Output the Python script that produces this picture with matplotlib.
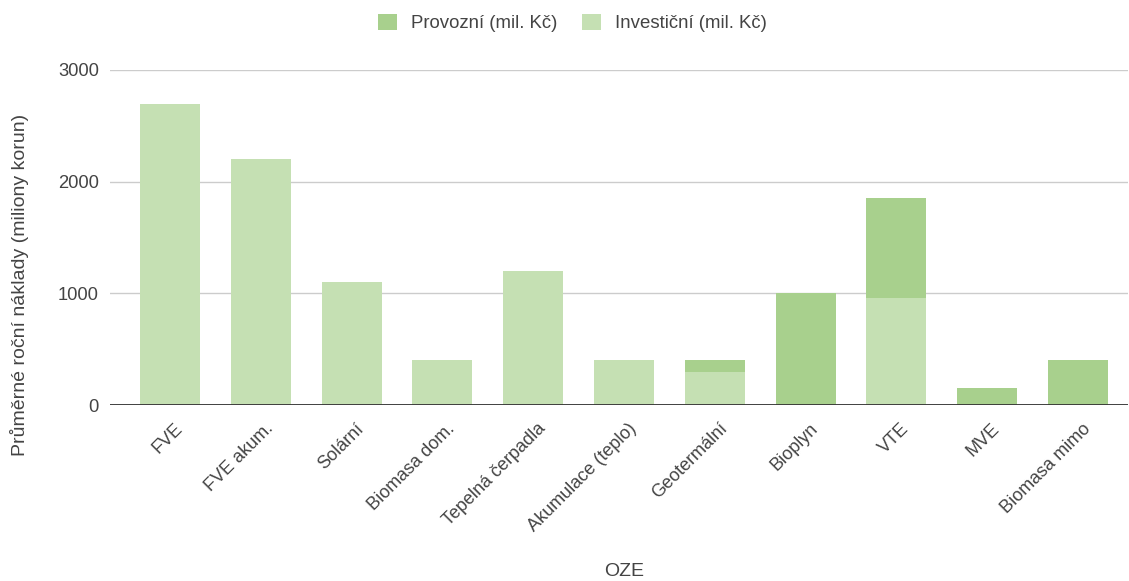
import matplotlib
matplotlib.use("Agg")
import matplotlib.pyplot as plt
import matplotlib.transforms as mtransforms
import numpy as np

plt.rcParams['font.family'] = ['Liberation Sans', 'DejaVu Sans']

categories = ["FVE", "FVE akum.", "Solární", "Biomasa dom.", "Tepelná čerpadla",
              "Akumulace (teplo)", "Geotermální", "Bioplyn", "VTE", "MVE", "Biomasa mimo"]
investicni = [2700, 2200, 1100, 400, 1200, 400, 300, 0, 960, 0, 0]
provozni = [0, 0, 0, 0, 0, 0, 100, 1000, 890, 150, 400]
y_ticks = [0, 1000, 2000, 3000]

c_prov = "#a8d08d"
c_inv = "#c5e0b3"
text_c = "#444444"

fig = plt.figure(figsize=(11.29, 5.81), dpi=100)
ax = fig.add_axes([110 / 1129, 1 - 405 / 581, 1018 / 1129, 335 / 581])

x = np.arange(len(categories))
w = 0.66
ax.bar(x, investicni, width=w, color=c_inv, zorder=2, label="Investiční (mil. Kč)")
ax.bar(x, provozni, width=w, bottom=investicni, color=c_prov, zorder=2, label="Provozní (mil. Kč)")

ax.set_xlim(-0.66, len(categories) - 0.45)
ax.set_ylim(0, 3000)
ax.set_yticks(y_ticks)
ax.set_yticklabels([str(v) for v in y_ticks], fontsize=13.2, color=text_c)
ax.yaxis.grid(True, color="#cccccc", linewidth=1, zorder=0)
ax.axhline(0, color="#333333", linewidth=1.3, zorder=3)
ax.tick_params(axis='y', length=0, pad=8)
ax.tick_params(axis='x', length=0, pad=11)
ax.set_xticks(x)
ax.set_xticklabels(categories, rotation=45, ha='right', rotation_mode='anchor',
                   fontsize=13, color=text_c)
shift = mtransforms.ScaledTranslation(4 / 100, 0, fig.dpi_scale_trans)
for lbl in ax.get_xticklabels():
    lbl.set_transform(lbl.get_transform() + shift)
for s in ax.spines.values():
    s.set_visible(False)

fig.text(20 / 1129, 1 - 285 / 581, "Průměrné roční náklady (miliony korun)", rotation=90,
         ha='center', va='center', fontsize=14, color=text_c)
fig.text(624 / 1129, 1 - 572 / 581, "OZE", ha='center', va='center', fontsize=14, color=text_c)

handles, labels = ax.get_legend_handles_labels()
leg = fig.legend(handles[::-1], labels[::-1], loc='center', bbox_to_anchor=(572.5 / 1129, 1 - 23 / 581),
                 ncol=2, frameon=False, fontsize=13.4, handlelength=1.02, handleheight=1.02,
                 columnspacing=1.29, handletextpad=0.75)
for t in leg.get_texts():
    t.set_color(text_c)

fig.savefig("out.png", dpi=100)
